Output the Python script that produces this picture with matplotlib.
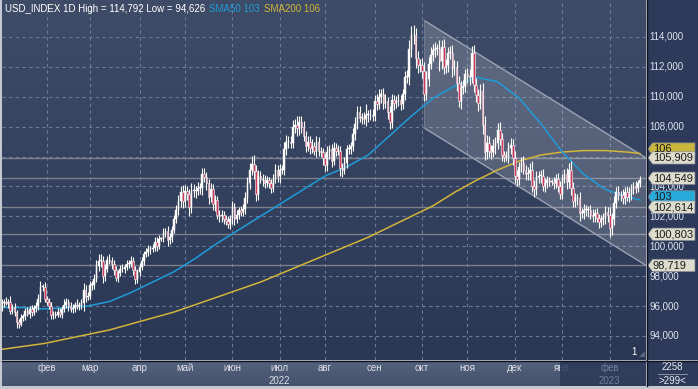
import numpy as np
import pandas as pd
import matplotlib
matplotlib.use("Agg")
import matplotlib.pyplot as plt
from matplotlib.patches import Polygon, Rectangle
from matplotlib.lines import Line2D
from matplotlib.colors import LinearSegmentedColormap

plt.rcParams['font.family'] = ['Liberation Sans', 'DejaVu Sans']

# Дневные бары USD_INDEX, 03.01.2022 - 21.02.2023 (рабочие дни)
dates = pd.bdate_range('2022-01-03', '2023-02-21')
first_open = 95.9
close = [
    # янв 2022
    96.2, 96.3, 96.2, 96.3, 95.7, 95.95, 95.6, 94.9, 94.8, 95.2, 95.3, 95.7, 95.5, 95.8, 95.6, 95.9, 96.0, 96.5, 97.3, 97.3, 96.5,
    # фев
    96.3, 96.0, 95.4, 95.5, 95.4, 95.6, 95.5, 95.8, 96.1, 96.3, 96.0, 95.8, 95.9, 96.1, 96.0, 96.0, 96.2, 97.1, 96.6, 96.7,
    # мар
    97.4, 97.4, 97.8, 98.7, 99.0, 99.0, 98.0, 98.5, 99.1, 99.0, 98.8, 98.4, 97.9, 98.2, 98.5, 98.5, 98.6, 98.8, 98.8, 99.0, 98.4, 97.8, 98.3,
    # апр
    98.6, 99.0, 99.5, 99.6, 99.8, 99.8, 99.9, 100.3, 100.0, 100.5, 100.5, 100.9, 101.0, 100.4, 100.6, 101.1, 101.8, 102.4, 103.0, 103.6, 103.0,
    # май
    103.7, 103.5, 102.6, 103.7, 103.7, 103.7, 103.9, 103.9, 104.8, 104.6, 104.2, 103.3, 103.8, 102.8, 103.1, 102.1, 102.0, 102.1, 101.8, 101.7, 101.5, 101.8,
    # июн
    102.6, 101.8, 102.1, 102.4, 102.3, 102.5, 103.2, 104.2, 105.1, 105.5, 105.0, 103.5, 104.7, 104.5, 104.4, 104.2, 104.4, 104.2, 103.9, 104.5, 105.1, 104.7,
    # июл
    105.1, 105.1, 106.5, 107.0, 107.0, 106.9, 108.0, 108.1, 107.9, 108.3, 108.0, 107.4, 106.7, 107.0, 106.6, 106.7, 106.4, 107.0, 106.4, 106.3, 105.9,
    # авг
    105.4, 106.3, 106.5, 105.7, 106.6, 106.4, 106.4, 105.2, 105.1, 105.6, 106.5, 106.5, 106.7, 107.5, 108.2, 109.0, 108.6, 108.6, 108.5, 108.8, 108.8, 108.8, 108.7,
    # сен
    109.7, 109.5, 110.0, 110.2, 109.6, 109.7, 109.0, 108.3, 109.8, 109.6, 109.7, 109.8, 109.5, 110.2, 111.3, 111.3, 113.2, 114.1, 114.1, 112.6, 112.1, 112.1,
    # окт
    111.7, 110.2, 111.2, 112.2, 112.8, 113.1, 113.2, 113.2, 112.4, 113.3, 112.0, 112.1, 112.9, 112.9, 111.9, 112.0, 110.9, 109.7, 110.6, 110.7, 111.5,
    # ноя
    111.4, 111.3, 112.9, 110.8, 110.1, 109.6, 110.4, 108.1, 106.3, 106.9, 106.4, 106.3, 106.7, 106.9, 107.8, 107.2, 106.1, 106.0, 106.0, 106.6, 106.8, 105.9,
    # дек
    104.7, 104.5, 105.3, 105.6, 105.1, 104.8, 104.9, 105.1, 104.0, 103.8, 104.6, 104.7, 104.7, 104.0, 104.2, 104.4, 104.3, 104.3, 104.2, 104.5, 104.0, 103.5,
    # янв 2023
    104.5, 104.8, 104.3, 105.1, 103.9, 103.0, 103.2, 103.2, 102.2, 102.2, 102.4, 102.4, 102.4, 102.1, 102.0, 102.2, 101.9, 101.6, 101.8, 101.9, 102.3, 102.1,
    # фев 2023
    101.2, 101.8, 102.9, 103.6, 103.4, 103.4, 103.2, 103.6, 103.3, 103.5, 103.8, 104.0, 103.9, 104.2, 104.4,
]
# тени свечей, сотые доли пункта
wick_hi = [
    25, 20, 30, 15, 35, 20, 25, 15, 20, 30, 15, 20, 25, 20, 30, 20, 25, 30, 35, 20, 30,
    20, 25, 30, 15, 20, 25, 30, 20, 35, 25, 20, 30, 25, 20, 40, 25, 30, 45, 30, 25,
    30, 25, 35, 40, 45, 50, 35, 30, 25, 40, 30, 25, 30, 20, 25, 30, 20, 25, 30, 35, 30, 25, 20,
    25, 30, 20, 25, 30, 20, 25, 35, 30, 25, 15, 30, 25, 35, 30, 25, 30, 35, 40, 45, 50,
    40, 35, 30, 50, 45, 35, 40, 30, 45, 40, 35, 30, 40, 35, 30, 25, 35, 30, 25, 30, 35, 30,
    40, 30, 35, 25, 30, 35, 40, 45, 50, 55, 60, 45, 40, 35, 30, 35, 30, 25, 30, 35, 40, 30,
    40, 35, 50, 45, 35, 40, 45, 40, 60, 40, 40, 35, 30, 40, 35, 50, 30, 35, 30, 25, 30,
    35, 40, 30, 35, 40, 30, 35, 30, 35, 40, 30, 35, 30, 40, 45, 40, 35, 30, 35, 70, 30, 35, 40,
    40, 45, 50, 35, 40, 45, 30, 35, 40, 30, 35, 40, 30, 35, 40, 50, 60, 60, 70, 50, 45, 40,
    50, 60, 55, 45, 50, 40, 45, 35, 60, 50, 55, 45, 40, 50, 55, 45, 40, 50, 45, 40, 35,
    40, 45, 50, 55, 45, 40, 45, 50, 60, 55, 45, 40, 50, 40, 45, 50, 35, 30, 35, 40, 45, 40,
    45, 40, 35, 40, 45, 35, 40, 50, 60, 40, 45, 35, 40, 45, 35, 30, 25, 20, 30, 35, 40, 35,
    30, 35, 40, 45, 60, 40, 35, 30, 45, 35, 40, 35, 30, 35, 40, 30, 35, 25, 30, 35, 40, 35,
    50, 40, 45, 35, 40, 30, 45, 35, 40, 45, 35, 30, 35, 25, 30,
]
wick_lo = [
    20, 25, 15, 30, 20, 25, 30, 35, 25, 15, 20, 25, 20, 30, 25, 20, 30, 25, 20, 30, 25,
    25, 20, 30, 25, 20, 15, 25, 30, 20, 25, 30, 20, 25, 30, 20, 25, 20, 50, 35, 20,
    20, 30, 25, 20, 35, 40, 45, 30, 25, 20, 30, 35, 25, 30, 20, 25, 30, 20, 25, 20, 35, 30, 25,
    30, 20, 25, 20, 25, 30, 20, 25, 35, 20, 15, 25, 30, 40, 25, 30, 20, 25, 30, 35, 45,
    35, 40, 60, 35, 40, 45, 30, 40, 50, 30, 45, 50, 35, 40, 45, 30, 35, 40, 30, 25, 30, 35,
    30, 35, 25, 30, 25, 30, 35, 30, 40, 35, 50, 45, 40, 30, 35, 30, 25, 30, 35, 30, 25, 40,
    45, 30, 35, 40, 45, 30, 35, 40, 50, 45, 40, 35, 40, 30, 45, 35, 30, 40, 35, 30, 45,
    40, 35, 45, 40, 30, 35, 30, 50, 45, 30, 35, 30, 35, 30, 40, 35, 30, 40, 35, 45, 50, 35, 30,
    35, 40, 35, 45, 40, 35, 50, 45, 40, 50, 35, 30, 40, 35, 45, 40, 50, 55, 60, 70, 50, 45,
    45, 50, 40, 50, 35, 40, 45, 40, 65, 55, 50, 40, 45, 40, 60, 45, 50, 40, 55, 45, 40,
    45, 50, 40, 50, 45, 55, 40, 60, 50, 45, 40, 45, 35, 50, 40, 45, 40, 35, 30, 45, 40, 50,
    50, 45, 40, 35, 30, 40, 35, 45, 40, 50, 35, 40, 45, 30, 35, 30, 25, 20, 35, 30, 40, 35,
    35, 30, 45, 40, 50, 40, 35, 45, 50, 30, 35, 40, 45, 30, 35, 40, 30, 35, 30, 35, 40, 45,
    60, 45, 40, 35, 30, 40, 35, 40, 30, 35, 40, 30, 35, 30, 25,
]

sma_idx = list(range(0, 291, 10)) + [296]
sma50 = [95.9, 95.9, 95.8, 95.9, 96.0, 96.3, 96.9, 97.6, 98.3, 99.2, 100.2, 101.1, 102.0, 102.9, 103.8, 104.7,
         105.3, 106.1, 107.4, 108.7, 109.9, 110.7, 111.3, 111.0, 109.9, 108.2, 106.3, 104.8, 103.8, 103.3, 103.1]
sma200 = [93.1, 93.3, 93.5, 93.8, 94.1, 94.4, 94.8, 95.2, 95.6, 96.1, 96.6, 97.1, 97.6, 98.2, 98.8, 99.4,
          100.0, 100.6, 101.3, 102.0, 102.7, 103.6, 104.4, 105.1, 105.7, 106.1, 106.3, 106.4, 106.4, 106.3, 106.2]

# канал и уровни
channel_start = '2022-10-04'
channel_top = [115.1, 105.909]
channel_bot = [107.91, 98.719]
levels = [105.909, 104.549, 102.614, 100.803, 98.719]

price_ticks = [94, 96, 98, 100, 102, 104, 108, 110, 112, 114]   # 106,000 закрыт метками
month_names = ['янв', 'фев', 'мар', 'апр', 'май', 'июн', 'июл', 'авг', 'сен', 'окт', 'ноя', 'дек']
tag_values = [106.5, 105.909, 104.549, 103.3, 102.614, 100.803, 98.719]
tag_texts = ['106', '105,909', '104,549', '103', '102,614', '100,803', '98,719']
tag_colors = ['#c9b63e', '#dddccd', '#dddccd', '#27a9da', '#dddccd', '#dddccd', '#dddccd']

W, H = 698, 389
fig = plt.figure(figsize=(W / 100, H / 100), dpi=100, facecolor='#c3c8d1')

def box(x0, y0, x1, y1):
    # пиксели -> доли фигуры
    return [x0 / W, 1 - y1 / H, (x1 - x0) / W, (y1 - y0) / H]

ax = fig.add_axes(box(2, 0, 646, 360))
ax_r = fig.add_axes(box(647, 0, 698, 360))
ax_b = fig.add_axes(box(2, 361, 646, 386))
ax_c = fig.add_axes(box(647, 361, 698, 386))

x_lo, x_hi = 0.2, 298.8
y_lo, y_hi = 92.39, 116.47

# фон с градиентом
bg = LinearSegmentedColormap.from_list('bg', ['#293755', '#3f4c68'])
ax.imshow(np.linspace(0, 1, 256).reshape(-1, 1), extent=[x_lo, x_hi, y_lo, y_hi], origin='lower',
          aspect='auto', cmap=bg, zorder=0)

c = np.array(close)
o = np.r_[first_open, c[:-1]]
hi = np.maximum(o, c) + np.array(wick_hi) / 100
lo = np.minimum(o, c) - np.array(wick_lo) / 100
xs = np.arange(len(c))

# сетка
month_start = [i for i in range(1, len(dates)) if dates[i].month != dates[i - 1].month]
for i in month_start:
    ax.axvline(i, color='#6b7a98', lw=0.8, ls=(0, (3, 3)), zorder=1)
for p in price_ticks + [106]:
    ax.axhline(p, color='#6b7a98', lw=0.8, ls=(0, (3, 3)), zorder=1)
for p in levels:
    ax.axhline(p, color='#7b808c', lw=1.0, zorder=1)

# канал
ch0 = dates.get_loc(pd.Timestamp(channel_start))
ax.add_patch(Polygon([(ch0, channel_top[0]), (x_hi, channel_top[1]), (x_hi, channel_bot[1]), (ch0, channel_bot[0])],
                     closed=True, facecolor='white', alpha=0.17, edgecolor='none', zorder=2))
ax.plot([ch0, x_hi], channel_top, color='#9aa2b4', lw=1.0, zorder=2)
ax.plot([ch0, x_hi], channel_bot, color='#9aa2b4', lw=1.0, zorder=2)
ax.plot([ch0, ch0], [channel_bot[0], channel_top[0]], color='#6f7890', lw=0.8, zorder=2)

# средние
ax.plot(sma_idx, sma200, color='#d2b53a', lw=1.1, zorder=3)
ax.plot(sma_idx, sma50, color='#1f9bd7', lw=1.1, zorder=3)

# свечи
up = c >= o
body = np.maximum(np.abs(c - o), 0.06)
ax.vlines(xs, lo, hi, color='white', lw=0.8, zorder=4)
ax.bar(xs[up], body[up], bottom=np.minimum(o, c)[up], width=0.75, color='white',
       edgecolor='white', lw=0.3, zorder=5)
ax.bar(xs[~up], body[~up], bottom=np.minimum(o, c)[~up], width=0.75, color='#d0385a',
       edgecolor='white', lw=0.4, zorder=5)

ax.set_xlim(x_lo, x_hi)
ax.set_ylim(y_lo, y_hi)
ax.axis('off')

# заголовок
ax.text(3 / 644, 1 - 9 / 360, 'USD_INDEX 1D High = 114,792 Low = 94,626', transform=ax.transAxes,
        color='white', fontsize=7, va='center', ha='left', zorder=6)
ax.text(207 / 644, 1 - 9 / 360, 'SMA50 103', transform=ax.transAxes,
        color='#1f9bd7', fontsize=7, va='center', ha='left', zorder=6)
ax.text(262 / 644, 1 - 9 / 360, 'SMA200 106', transform=ax.transAxes,
        color='#d2b53a', fontsize=7, va='center', ha='left', zorder=6)
ax.text(632 / 644, 1 - 352 / 360, '1', transform=ax.transAxes, color='white', fontsize=7,
        va='center', ha='center', zorder=6)
ax.add_patch(Polygon([(637 / 644, 3 / 360), (643 / 644, 3 / 360), (643 / 644, 9 / 360)],
                     closed=True, transform=ax.transAxes, facecolor='#5a6680', edgecolor='none', zorder=6))

# правая шкала
ax_r.set_facecolor('#2d3a59')
ax_r.set_xlim(0, 1)
ax_r.set_ylim(y_lo, y_hi)
for p in price_ticks:
    ax_r.text(0.05, p, f'{p},000', color='#dde3ee', fontsize=7, va='center', ha='left', zorder=1)
hh = 0.41
for v, t, col in zip(tag_values, tag_texts, tag_colors):
    ax_r.add_patch(Polygon([(0.02, v), (0.11, v + hh), (0.94, v + hh), (0.94, v - hh), (0.11, v - hh)],
                           closed=True, facecolor=col, edgecolor='#8a8f98', lw=0.5, zorder=3))
    ax_r.text(0.11, v, t, color='#1b1b1b', fontsize=8, va='center', ha='left', zorder=4)
ax_r.set_xticks([])
ax_r.set_yticks([])
for s in ax_r.spines.values():
    s.set_visible(False)

# нижняя шкала времени
ax_b.set_xlim(x_lo, x_hi)
ax_b.set_ylim(0, 1)
band = LinearSegmentedColormap.from_list('band', ['#55627c', '#45526d'])
ax_b.imshow(np.linspace(0, 1, 64).reshape(-1, 1), extent=[x_lo, x_hi, 0, 1], origin='upper',
            aspect='auto', cmap=band, zorder=0)
for i in month_start:
    ax_b.text(i, 0.72, month_names[dates[i].month - 1], color='#d9dee8', fontsize=7,
              ha='center', va='center', zorder=1)
i2022 = [i for i in month_start if dates[i].year == 2022 and dates[i].month == 7][0]
i2023 = [i for i in month_start if dates[i].year == 2023 and dates[i].month == 2][0]
ax_b.text(i2022, 0.22, '2022', color='#d9dee8', fontsize=7, ha='center', va='center', zorder=1)
y23 = [i for i in month_start if dates[i].year == 2023][0]
ax_b.add_patch(Rectangle((y23 - 1, 0), x_hi - y23 + 1, 1, facecolor='#2b3857', alpha=0.85,
                         edgecolor='none', zorder=2))
ax_b.text(i2023, 0.72, 'фев', color='#6f7c96', fontsize=7, ha='center', va='center', zorder=3)
ax_b.text(i2023, 0.22, '2023', color='#6f7c96', fontsize=7, ha='center', va='center', zorder=3)
ax_b.axis('off')

# угол
ax_c.set_facecolor('#2d3a59')
ax_c.set_xlim(0, 1)
ax_c.set_ylim(0, 1)
ax_c.text(0.5, 0.76, '2258', color='#e6eaf2', fontsize=7, ha='center', va='center')
ax_c.plot([0.22, 0.78], [0.5, 0.5], color='#9aa2b4', lw=0.6)
ax_c.text(0.5, 0.22, '>299<', color='#e6eaf2', fontsize=7, ha='center', va='center')
ax_c.set_xticks([])
ax_c.set_yticks([])
for s in ax_c.spines.values():
    s.set_visible(False)

# разделители
fig.add_artist(Line2D([646.5 / W, 646.5 / W], [1 - 386 / H, 1], color='#0c1220', lw=1.0))
fig.add_artist(Line2D([2 / W, 1], [1 - 360.5 / H, 1 - 360.5 / H], color='#0c1220', lw=1.0))

fig.savefig('out.png', dpi=100, facecolor=fig.get_facecolor())
